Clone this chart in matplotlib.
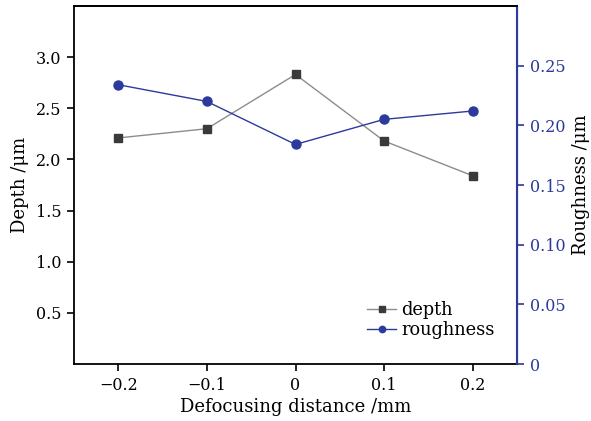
import matplotlib
matplotlib.use("Agg")
import matplotlib.pyplot as plt

# --- data ---
distance = [-0.2, -0.1, 0.0, 0.1, 0.2]
depth = [2.21, 2.30, 2.83, 2.18, 1.84]
roughness = [0.234, 0.220, 0.184, 0.205, 0.212]

x_ticks = [-0.2, -0.1, 0.0, 0.1, 0.2]
x_labels = ["\u22120.2", "\u22120.1", "0", "0.1", "0.2"]
depth_ticks = [0.5, 1.0, 1.5, 2.0, 2.5, 3.0]
rough_ticks = [0, 0.05, 0.10, 0.15, 0.20, 0.25]
rough_labels = ["0", "0.05", "0.10", "0.15", "0.20", "0.25"]

BLUE = "#2b3a9b"
plt.rcParams["font.family"] = ["DejaVu Serif"]
plt.rcParams["font.size"] = 11.5

fig = plt.figure(figsize=(5.91, 4.21), dpi=100)
ax = fig.add_axes([0.125, 0.135, 0.75, 0.851])
ax2 = ax.twinx()

l1, = ax.plot(distance, depth, color="#8c8c8c", lw=1.0, marker="s",
              ms=5.5, mfc="#3a3a3a", mec="#3a3a3a", label="depth")
l2, = ax2.plot(distance, roughness, color=BLUE, lw=1.0, marker="o",
               ms=6.5, mfc=BLUE, mec=BLUE, label="roughness")

ax.set_xlim(-0.25, 0.25)
ax.set_ylim(0, 3.5)
ax2.set_ylim(0, 0.30)

ax.set_xticks(x_ticks)
ax.set_xticklabels(x_labels)
ax.set_yticks(depth_ticks)
ax2.set_yticks(rough_ticks)
ax2.set_yticklabels(rough_labels)

ax.tick_params(direction="out", length=5, width=1.2, color="black", pad=4)
ax2.tick_params(axis="y", direction="out", length=5, width=1.2,
                color=BLUE, labelcolor=BLUE, pad=4)

for s in ["left", "bottom", "top"]:
    ax.spines[s].set_linewidth(1.3)
ax2.spines["right"].set_color(BLUE)
ax2.spines["right"].set_linewidth(1.5)
ax2.spines["left"].set_visible(False)
ax2.spines["top"].set_linewidth(1.3)
ax2.spines["bottom"].set_visible(False)

ax.set_xlabel("Defocusing distance /mm", fontsize=13, labelpad=3)
ax.set_ylabel("Depth /\u03bcm", fontsize=13, labelpad=5)
ax2.set_ylabel("Roughness /\u03bcm", fontsize=13, labelpad=5)

leg = ax2.legend([l1, l2], ["depth", "roughness"], loc="lower right",
                 bbox_to_anchor=(0.985, 0.025), frameon=False, handlelength=1.6,
                 handletextpad=0.3, labelspacing=0.1, markerscale=0.7,
                 fontsize=12.8)

fig.savefig("out.png", dpi=100)
